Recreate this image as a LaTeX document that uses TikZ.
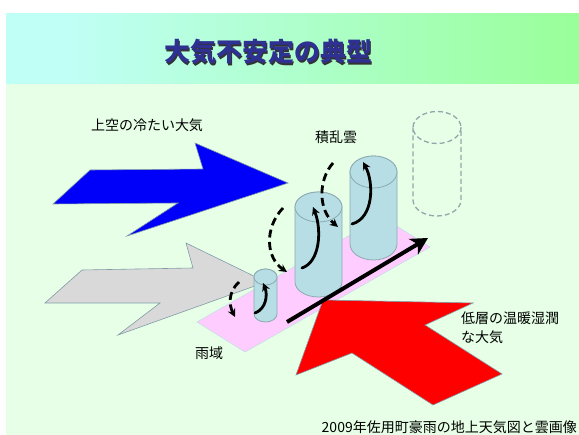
\documentclass[tikz,border=0pt]{standalone}
\usepackage{fontspec}
\setmainfont{Noto Sans CJK JP}
\usetikzlibrary{arrows.meta}

\definecolor{bgGreen}{RGB}{230,255,230}
\definecolor{bandCyan}{RGB}{192,255,246}
\definecolor{bandGreen}{RGB}{153,255,153}
\definecolor{titleNavy}{RGB}{46,49,146}
\definecolor{cylFill}{RGB}{183,222,228}
\definecolor{cylEdge}{RGB}{140,170,178}
\definecolor{plateFill}{RGB}{255,204,255}
\definecolor{plateEdge}{RGB}{200,220,232}
\definecolor{arrowGray}{RGB}{217,217,217}
\definecolor{edgeGray}{RGB}{130,155,168}
\definecolor{ghostGray}{RGB}{150,165,172}
\definecolor{coldBlue}{RGB}{0,0,250}
\definecolor{warmRed}{RGB}{255,0,0}

\pgfdeclarehorizontalshading{bandshade}{100bp}{%
  color(0bp)=(bandCyan); color(30bp)=(bandCyan);
  color(75bp)=(bandGreen); color(100bp)=(bandGreen)}

\tikzset{
  label/.style={inner sep=0pt, font=\fontsize{14}{19}\selectfont, text=black},
  flatarrow/.style={draw=edgeGray, line width=0.6pt, line join=miter},
  cylbody/.style={fill=cylFill, draw=cylEdge, line width=0.8pt},
  ghostline/.style={draw=ghostGray, line width=1.3pt, dash pattern=on 5pt off 3pt},
  curl/.style={line width=2.8pt, line cap=round, -{Stealth[length=8pt,width=8pt]}},
  curldash/.style={curl, line cap=butt, dash pattern=on 8pt off 4.5pt},
}

% cylinder: centre x, x radius, y radius, top centre y, bottom centre y
\newcommand\drawcyl[5]{%
  \filldraw[cylbody] (#1-#2,#4) -- (#1-#2,#5)
    arc[start angle=180,end angle=0,x radius=#2,y radius=#3]
    -- (#1+#2,#4)
    arc[start angle=0,end angle=-180,x radius=#2,y radius=#3] -- cycle;
  \draw[cylbody] (#1,#4) ellipse[x radius=#2,y radius=#3];
}

\begin{document}
\begin{tikzpicture}[x=1pt,y=-1pt]
\useasboundingbox (0,0) rectangle (579,435);
\fill[white] (0,0) rectangle (579,435);

% backgrounds
\fill[bgGreen] (6,84) rectangle (579,435);
\shade[shading=bandshade] (6,14) rectangle (579,84);

% title with drop shadow
\node[inner sep=0pt, font=\fontsize{26}{28}\selectfont\bfseries, text=black!80]
  (titleshadow) at (269.5,53.5) {大気不安定の典型};
\node[inner sep=0pt, font=\fontsize{26}{28}\selectfont\bfseries, text=titleNavy]
  (title) at (268,52) {大気不安定の典型};

% cold upper air
\node[label] (coldlabel) at (147,125) {上空の冷たい大気};
\filldraw[flatarrow, fill=coldBlue]
  (53,204) -- (90,170) -- (203,169) -- (195,143) -- (288,183)
  -- (127,236) -- (178,203) -- cycle;

% rain area plate
\filldraw[fill=plateFill, draw=plateEdge, line width=0.6pt]
  (197,322) -- (245,352) -- (430,247) -- (382,217) -- cycle;

% grey inflow
\filldraw[flatarrow, fill=arrowGray]
  (45,303) -- (82,270) -- (193,268) -- (186,243) -- (266,282)
  -- (118,335) -- (160,303) -- cycle;

% warm moist low-level air
\filldraw[flatarrow, fill=warmRed]
  (323,300) -- (473,303) -- (425,325) -- (502,374) -- (433,405)
  -- (352,353) -- (296,375) -- cycle;

% cumulonimbus cells
\drawcyl{265.5}{11.5}{8}{277}{314}
\drawcyl{318.5}{23.5}{15}{207}{282}
\drawcyl{373.5}{23.5}{16}{172}{244}

% future cell (dashed)
\draw[ghostline] (437,127.5) ellipse[x radius=24,y radius=16];
\draw[ghostline] (413,127.5) -- (413,200)
  arc[start angle=180,end angle=0,x radius=24,y radius=16] -- (461,127.5);

% propagation direction
\coordinate (flowA) at (287,322);
\coordinate (flowB) at (428,238);
\draw[line width=4pt, -{Stealth[length=17pt,width=18pt,inset=5pt]}] (flowA) -- (flowB);

% up- and downdrafts
\coordinate (s1a) at (255,313); \coordinate (s1b) at (263,283);
\coordinate (d1a) at (239,282); \coordinate (d1b) at (235,317);
\coordinate (d2a) at (283,208); \coordinate (d2b) at (287,272);
\coordinate (s2a) at (302,268); \coordinate (s2b) at (313,207);
\coordinate (d3a) at (333,163); \coordinate (d3b) at (338,227);
\coordinate (s3a) at (352,224); \coordinate (s3b) at (363,162);

\draw[curl] (s1a) .. controls (266,309) and (268,295) .. (s1b);
\draw[curldash] (d1a) .. controls (228,292) and (229,305) .. (d1b);
\draw[curldash] (d2a) .. controls (264,228) and (266,258) .. (d2b);
\draw[curl] (s2a) .. controls (320,262) and (322,230) .. (s2b);
\draw[curldash] (d3a) .. controls (318,180) and (318,210) .. (d3b);
\draw[curl] (s3a) .. controls (374,218) and (374,182) .. (s3b);

% labels
\node[label] (cbLabel) at (336,137) {積乱雲};
\node[label] (rainLabel) at (209,353) {雨域};
\node[label, align=left, anchor=west] (warmLabel) at (461,327.5)
  {低層の温暖湿潤\\な大気};
\node[label, anchor=east] (source) at (577,427)
  {2009年佐用町豪雨の地上天気図と雲画像};
\end{tikzpicture}
\end{document}
